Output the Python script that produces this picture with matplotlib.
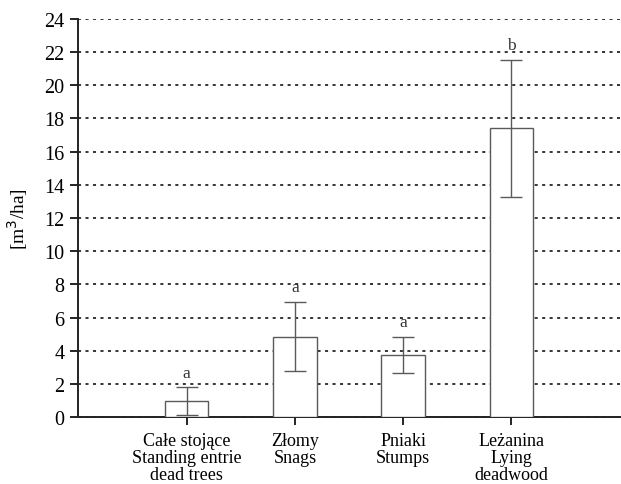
import matplotlib
matplotlib.use('Agg')
import matplotlib.pyplot as plt

plt.rcParams['font.family'] = ['Liberation Serif', 'DejaVu Serif']

# kategorie martwego drewna
categories = ['Całe stojące\nStanding entrie\ndead trees',
              'Złomy\nSnags',
              'Pniaki\nStumps',
              'Leżanina\nLying\ndeadwood']
means = [0.95, 4.85, 3.75, 17.4]
errors = [0.85, 2.1, 1.1, 4.15]
letters = ['a', 'a', 'a', 'b']
yticks = list(range(0, 25, 2))

fig = plt.figure(figsize=(6.21, 4.85), dpi=100)
ax = fig.add_axes([0.126, 0.138, 0.872, 0.821])

x = [1, 2, 3, 4]
ax.bar(x, means, width=0.4, color='white', edgecolor='#5a5a5a', linewidth=1.0, zorder=3)
ax.errorbar(x, means, yerr=errors, fmt='none', ecolor='#5a5a5a', elinewidth=1.0,
            capsize=8, capthick=1.0, zorder=4)
for xi, m, e, l in zip(x, means, errors, letters):
    ax.text(xi, m + e + 0.4, l, ha='center', va='bottom', fontsize=12.5, color='#333333')

ax.set_xlim(0, 5)
ax.set_ylim(0, 24)
ax.set_yticks(yticks)
ax.set_xticks(x)
ax.set_xticklabels(categories, fontsize=13, linespacing=1.0)
ax.tick_params(axis='y', labelsize=14.5, direction='out', length=6, width=1.2, pad=4)
ax.tick_params(axis='x', direction='out', length=6, width=1.2, pad=5)
ax.yaxis.grid(True, linestyle=(0, (2, 2.9)), color='black', linewidth=1.1, zorder=0)
ax.set_axisbelow(True)

for s in ['top', 'right']:
    ax.spines[s].set_visible(False)
for s in ['left', 'bottom']:
    ax.spines[s].set_linewidth(1.4)
    ax.spines[s].set_color('#222222')

ax.set_ylabel('[m$^3$/ha]', fontsize=14, labelpad=10)

fig.savefig('out.png', dpi=100)
